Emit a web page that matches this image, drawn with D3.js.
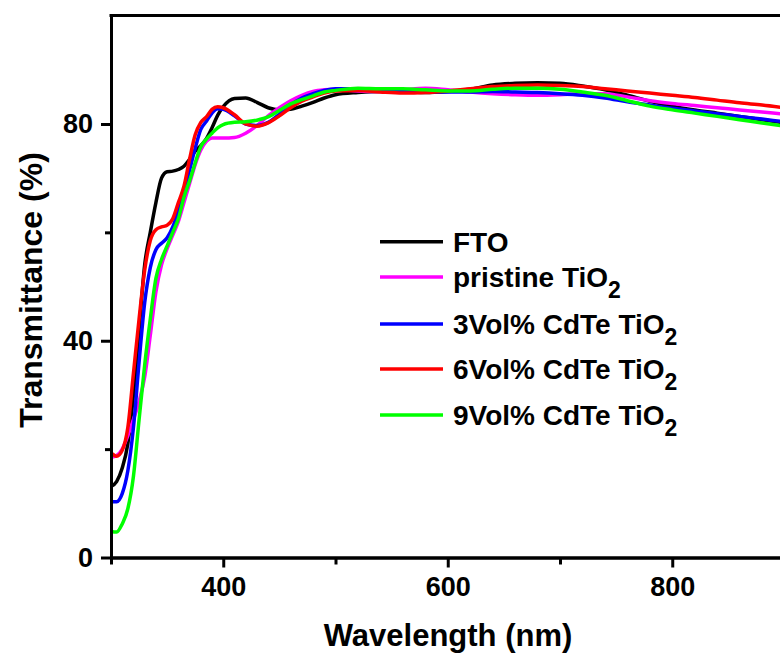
<!DOCTYPE html>
<html>
<head>
<meta charset="utf-8">
<script src="https://cdn.jsdelivr.net/npm/d3@7"></script>
<style>
  html, body { margin: 0; padding: 0; background: #fff; }
  svg { display: block; }
  text { font-family: "Liberation Sans", Arial, sans-serif; font-weight: bold; fill: #000; }
</style>
</head>
<body>
<svg id="chart" width="780" height="657"></svg>
<script>
// Wavelength grid (nm) shared by every spectrum
const wavelength = [300,305,310,315,320,325,330,335,340,345,350,355,360,365,370,375,380,385,390,395,
  400,410,420,430,440,450,460,470,480,490,
  500,520,540,560,580,600,620,640,660,680,700,720,740,760,780,800,820,840,860,880,900];

// Transmittance (%) of each film
const fto = [13.1,14.0,16.5,21.0,30.0,42.0,54.0,60.0,65.5,70.0,71.2,71.3,71.6,72.2,73.5,75.0,76.0,77.3,79.3,81.6,
  83.2,84.7,84.8,84.0,83.0,82.6,82.7,83.3,84.0,84.8,
  85.4,85.8,86.0,86.0,85.8,86.0,86.4,87.2,87.5,87.6,87.5,87.0,86.3,85.3,84.2,83.3,82.6,82.0,81.4,80.8,80.2];
const pristineTiO2 = [18.5,18.8,20.0,22.5,25.5,28.8,33.3,41.0,49.0,54.0,57.0,59.5,62.0,65.5,69.0,72.5,75.2,76.8,77.4,77.4,
  77.4,77.5,78.3,79.7,81.5,83.0,84.3,85.3,86.0,86.3,
  86.4,86.1,86.0,86.3,86.6,86.3,85.9,85.6,85.4,85.3,85.4,85.6,85.6,85.0,84.3,83.8,83.4,83.0,82.6,82.2,81.8];
const cdte3 = [10.3,10.3,11.8,16.0,24.0,36.0,47.0,53.5,56.8,58.0,59.0,61.0,64.0,67.5,71.5,75.5,79.0,80.5,82.0,82.8,
  82.7,81.5,80.0,79.7,80.3,81.8,83.5,84.8,85.6,86.2,
  86.5,86.5,86.3,86.1,86.0,85.9,85.9,86.0,85.9,85.8,85.6,85.3,84.8,84.1,83.5,82.9,82.4,81.9,81.4,80.9,80.4];
const cdte6 = [19.3,18.7,19.8,24.0,34.0,44.0,53.0,58.5,60.5,61.0,61.3,62.5,65.5,68.5,73.5,78.0,80.3,81.3,82.7,83.2,
  83.0,81.7,80.0,79.6,80.2,81.5,83.0,84.2,85.0,85.7,
  86.1,86.2,85.9,85.7,85.8,86.1,86.5,86.9,87.1,87.2,87.1,86.9,86.5,86.1,85.7,85.3,84.9,84.4,83.9,83.5,83.0];
const cdte9 = [4.8,4.7,6.2,9.0,15.0,25.4,35.5,44.0,51.5,55.0,57.5,60.0,62.5,66.5,69.5,72.8,75.8,77.2,78.3,79.3,
  79.9,80.3,80.4,80.7,81.3,82.5,83.7,84.5,85.2,85.9,
  86.2,86.6,86.5,86.5,86.3,86.1,86.1,86.4,86.6,86.6,86.4,85.9,85.3,84.3,83.3,82.6,82.0,81.4,80.8,80.2,79.6];

const seriesNames = ["FTO", "pristine TiO", "3Vol% CdTe TiO", "6Vol% CdTe TiO", "9Vol% CdTe TiO"];
const seriesSub = ["", "2", "2", "2", "2"];
const seriesColors = ["#000000", "#ff00ff", "#0000ff", "#ff0000", "#00ff00"];
const seriesValues = [fto, pristineTiO2, cdte3, cdte6, cdte9];

const xMajorTicks = [400, 600, 800];
const xMinorTicks = [300, 500, 700];
const yMajorTicks = [0, 40, 80];
const yMinorTicks = [20, 60];

const svg = d3.select("#chart");
const plotLeft = 111, plotRight = 784.5, plotTop = 15.6, plotBottom = 557.5;

const x = d3.scaleLinear().domain([300, 900]).range([plotLeft, plotRight]);
const y = d3.scaleLinear().domain([0, 100]).range([plotBottom, plotTop]);

// spectra, drawn in legend order so the last film sits on top
const line = d3.line()
  .x((d, i) => x(wavelength[i]))
  .y(d => y(d))
  .curve(d3.curveMonotoneX);

svg.append("g")
  .selectAll("path")
  .data(seriesValues)
  .join("path")
  .attr("d", d => line(d))
  .attr("fill", "none")
  .attr("stroke", (d, i) => seriesColors[i])
  .attr("stroke-width", 3.5)
  .attr("stroke-linejoin", "round");

// axes
function styleAxis(g) {
  g.selectAll(".domain").attr("stroke", "#000").attr("stroke-width", 3);
  g.selectAll(".tick line").attr("stroke", "#000").attr("stroke-width", 3);
}
function styleLabels(g) {
  g.selectAll(".tick text")
    .attr("font-family", "'Liberation Sans', Arial, sans-serif")
    .attr("font-weight", "bold")
    .attr("font-size", 27)
    .attr("fill", "#000");
}

const xAxisMajor = d3.axisBottom(x).tickValues(xMajorTicks).tickSize(10).tickSizeOuter(0).tickPadding(9);
const xAxisMinor = d3.axisBottom(x).tickValues(xMinorTicks).tickSize(7).tickSizeOuter(0).tickFormat("");
const yAxisMajor = d3.axisLeft(y).tickValues(yMajorTicks).tickSize(10).tickSizeOuter(0).tickPadding(8);
const yAxisMinor = d3.axisLeft(y).tickValues(yMinorTicks).tickSize(6).tickSizeOuter(0).tickFormat("");

svg.append("g").attr("transform", `translate(0,${plotBottom})`)
  .call(xAxisMinor).call(styleAxis);
svg.append("g").attr("transform", `translate(0,${plotBottom})`)
  .call(xAxisMajor).call(styleAxis).call(styleLabels);

svg.append("g").attr("transform", `translate(${plotLeft},0)`)
  .call(yAxisMinor).call(styleAxis);
svg.append("g").attr("transform", `translate(${plotLeft},0)`)
  .call(yAxisMajor).call(styleAxis).call(styleLabels);

// top frame line
svg.append("line")
  .attr("x1", plotLeft - 1.5).attr("x2", plotRight)
  .attr("y1", y(100)).attr("y2", y(100))
  .attr("stroke", "#000").attr("stroke-width", 3);

// axis titles
svg.append("text")
  .attr("x", 448).attr("y", 646)
  .attr("text-anchor", "middle")
  .attr("font-size", 31)
  .text("Wavelength (nm)");

svg.append("text")
  .attr("transform", "translate(42,290) rotate(-90)")
  .attr("text-anchor", "middle")
  .attr("font-size", 32)
  .text("Transmittance (%)");

// legend
const legendRowY = [241.7, 277, 324, 369, 415];
const legend = svg.append("g");
seriesNames.forEach((name, i) => {
  const ly = legendRowY[i];
  legend.append("line")
    .attr("x1", 380).attr("x2", 443)
    .attr("y1", ly).attr("y2", ly)
    .attr("stroke", seriesColors[i]).attr("stroke-width", 3.5);
  const t = legend.append("text")
    .attr("x", 453).attr("y", ly + 10)
    .attr("font-size", 28);
  t.append("tspan").text(name);
  if (seriesSub[i]) {
    t.append("tspan").attr("font-size", 23).attr("dy", 11).text(seriesSub[i]);
  }
});
</script>
</body>
</html>
